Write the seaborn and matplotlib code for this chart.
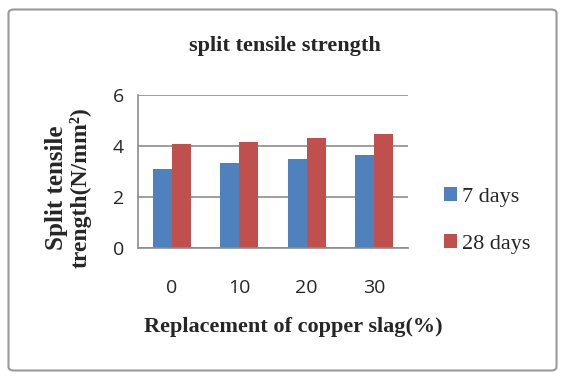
import matplotlib
matplotlib.use("Agg")
import matplotlib.pyplot as plt
import seaborn as sns
import pandas as pd
from matplotlib.patches import FancyBboxPatch

categories = ["0", "10", "20", "30"]
days7 = [3.1, 3.32, 3.49, 3.65]
days28 = [4.09, 4.14, 4.3, 4.47]
series_names = ["7 days", "28 days"]
yticks = [0, 2, 4, 6]

df = pd.DataFrame({
    "cat": categories * 2,
    "val": days7 + days28,
    "series": [series_names[0]] * 4 + [series_names[1]] * 4,
})

sns.set_style("white")
fig = plt.figure(figsize=(5.65, 3.8), dpi=100)
fig.patches.append(FancyBboxPatch((0.015, 0.025), 0.97, 0.95, boxstyle="round,pad=0,rounding_size=0.01",
                                  transform=fig.transFigure, facecolor="white", edgecolor="#9a9a9a",
                                  linewidth=1.5, zorder=-1))
ax = fig.add_axes([0.244, 0.347, 0.478, 0.403])
sns.barplot(data=df, x="cat", y="val", hue="series", order=categories,
            palette=["#4F81BD", "#C0504D"], width=0.56, ax=ax, legend=True,
            edgecolor="none", saturation=1)
ax.set_ylim(0, 6)
ax.set_yticks(yticks)
ax.yaxis.grid(True, color="#8c8c8c", linewidth=1.2)
ax.set_axisbelow(True)
for s in ["top", "right"]:
    ax.spines[s].set_visible(False)
for s in ["left", "bottom"]:
    ax.spines[s].set_color("#8c8c8c")
    ax.spines[s].set_linewidth(1.2)
ax.tick_params(axis="y", length=4, color="#8c8c8c", labelsize=14, pad=6)
ax.tick_params(axis="x", length=0, labelsize=14, pad=22)
for lab in ax.get_xticklabels() + ax.get_yticklabels():
    lab.set_fontfamily("Open Sans")
ax.set_xlabel("")
ax.set_ylabel("")

fig.text(0.505, 0.878, "split tensile strength", ha="center", va="center",
         fontfamily="Liberation Serif", fontweight="bold", fontsize=16)
fig.text(0.52, 0.14, "Replacement of copper slag(%)", ha="center", va="center",
         fontfamily="Liberation Serif", fontweight="bold", fontsize=16)
fig.text(0.1, 0.505, "Split tensile", rotation=90, ha="center", va="center",
         fontfamily="Liberation Serif", fontweight="bold", fontsize=18)
fig.text(0.142, 0.505, "trength(N/mm²)", rotation=90, ha="center", va="center",
         fontfamily="Liberation Serif", fontweight="bold", fontsize=17)

handles, labels = ax.get_legend_handles_labels()
ax.get_legend().remove()
leg = fig.legend(handles, labels, loc="center left", bbox_to_anchor=(0.75, 0.42),
                 frameon=False, prop={"family": "Liberation Serif", "size": 16},
                 handlelength=0.6, handleheight=0.6, handletextpad=0.2, labelspacing=1.2)

fig.savefig("out.png", dpi=100)
